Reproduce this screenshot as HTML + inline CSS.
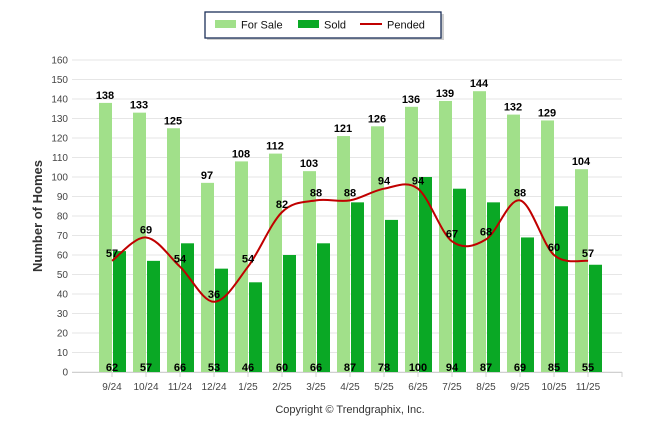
<!DOCTYPE html>
<html><head><meta charset="utf-8"><style>
html,body{margin:0;padding:0;background:#fff;width:646px;height:434px;overflow:hidden}
svg{display:block;font-family:"Liberation Sans",sans-serif}
</style></head><body>
<svg id="s" width="646" height="434" xmlns="http://www.w3.org/2000/svg"></svg>
<script>
const s=document.getElementById('s');
let h='';
const y0=372,k=1.95,c0=112,dx=34;
const Y=v=>y0-v*k, C=i=>c0+i*dx;
for(let v=0;v<=160;v+=10){const y=Y(v);
h+=`<line x1="72" x2="622" y1="${y}" y2="${y}" stroke="#e6e6e6" stroke-width="1"/>`;
h+=`<text x="68" y="${y+3.5}" font-size="10" fill="#444" text-anchor="end">${v}</text>`;}
h+=`<line x1="72" x2="622" y1="372.5" y2="372.5" stroke="#d0d0d0"/>`;
const lab=['9/24','10/24','11/24','12/24','1/25','2/25','3/25','4/25','5/25','6/25','7/25','8/25','9/25','10/25','11/25'];
const fs=[138,133,125,97,108,112,103,121,126,136,139,144,132,129,104];
const sd=[62,57,66,53,46,60,66,87,78,100,94,87,69,85,55];
const pd=[57,69,54,36,54,82,88,88,94,94,67,68,88,60,57];
for(let i=0;i<15;i++){const c=C(i);
h+=`<line x1="${c}" x2="${c}" y1="372" y2="377" stroke="#d0d0d0"/>`;
h+=`<rect x="${c-13}" y="${Y(fs[i])}" width="13" height="${fs[i]*k}" fill="#a1e08a"/>`;
h+=`<rect x="${c+1}" y="${Y(sd[i])}" width="13" height="${sd[i]*k}" fill="#0aa825"/>`;
h+=`<text x="${c}" y="390" font-size="10" fill="#444" text-anchor="middle">${lab[i]}</text>`;}
h+=`<line x1="622" x2="622" y1="372" y2="377" stroke="#d0d0d0"/>`;
let p=pd.map((v,i)=>[C(i),Y(v)]);
let d=`M${p[0][0]},${p[0][1]}`;
for(let i=0;i<p.length-1;i++){const a=p[i-1]||p[i],b=p[i],c=p[i+1],e=p[i+2]||c;
d+=`C${b[0]+(c[0]-a[0])/6},${b[1]+(c[1]-a[1])/6} ${c[0]-(e[0]-b[0])/6},${c[1]-(e[1]-b[1])/6} ${c[0]},${c[1]}`;}
h+=`<path d="${d}" fill="none" stroke="#c00000" stroke-width="2"/>`;
for(let i=0;i<15;i++){const c=C(i);
h+=`<text x="${c-7}" y="${Y(fs[i])-4}" font-size="11" font-weight="bold" fill="#000" text-anchor="middle">${fs[i]}</text>`;
h+=`<text x="${c}" y="371" font-size="11" font-weight="bold" fill="#000" text-anchor="middle">${sd[i]}</text>`;
h+=`<text x="${c}" y="${Y(pd[i])-4}" font-size="11" font-weight="bold" fill="#000" text-anchor="middle">${pd[i]}</text>`;}
h+=`<text transform="translate(42,216) rotate(-90)" font-size="13" font-weight="bold" fill="#333" text-anchor="middle">Number of Homes</text>`;
h+=`<rect x="207" y="14" width="237" height="26" fill="#888" opacity=".4"/>`;
h+=`<rect x="205" y="12" width="236" height="26" fill="#fff" stroke="#1c3059" stroke-width="1.3"/>`;
h+=`<rect x="215" y="20" width="21" height="8" fill="#a1e08a"/><text x="241" y="28.5" font-size="11" fill="#111">For Sale</text>`;
h+=`<rect x="298" y="20" width="21" height="8" fill="#0aa825"/><text x="324" y="28.5" font-size="11" fill="#111">Sold</text>`;
h+=`<line x1="360" x2="382" y1="24" y2="24" stroke="#c00000" stroke-width="2"/><text x="387" y="28.5" font-size="11" fill="#111">Pended</text>`;
h+=`<text x="350" y="413" font-size="11" fill="#333" text-anchor="middle">Copyright © Trendgraphix, Inc.</text>`;
s.innerHTML=h;
</script>
</body></html>
